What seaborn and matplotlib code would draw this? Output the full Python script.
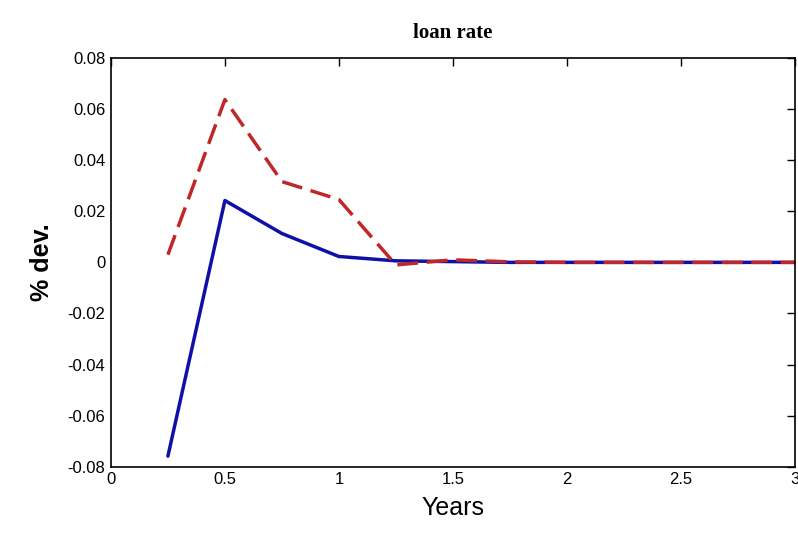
import seaborn as sns
import pandas as pd
from matplotlib import pyplot as plt

# impulse responses, quarterly horizon in years
years = [0.25, 0.5, 0.75, 1.0, 1.25, 1.5, 1.75, 2.0, 2.25, 2.5, 2.75, 3.0]
blue_line = [-0.0758, 0.0242, 0.0113, 0.0023, 0.0006, 0.0003, 0.0, 0.0, 0.0, 0.0, 0.0, 0.0]
red_line = [0.0030, 0.0637, 0.0316, 0.0246, -0.0010, 0.0010, 0.0002, 0.0, 0.0, 0.0, 0.0, 0.0]

x_ticks = [0, 0.5, 1, 1.5, 2, 2.5, 3]
x_ticklabels = ['0', '0.5', '1', '1.5', '2', '2.5', '3']
y_ticks = [-0.08, -0.06, -0.04, -0.02, 0, 0.02, 0.04, 0.06, 0.08]
y_ticklabels = ['-0.08', '-0.06', '-0.04', '-0.02', '0', '0.02', '0.04', '0.06', '0.08']

df = pd.DataFrame({'Years': years, 'blue': blue_line, 'red': red_line})

sns.set_style('white')
plt.rcParams['font.family'] = ['Liberation Sans', 'DejaVu Sans']
plt.rcParams['text.color'] = 'black'
plt.rcParams['axes.labelcolor'] = 'black'

fig = plt.figure(figsize=(7.98, 5.36), dpi=100)
ax = fig.add_axes([0.139, 0.129, 0.857, 0.763])

sns.lineplot(data=df, x='Years', y='blue', ax=ax, color='#1010a8', linewidth=2.5)
sns.lineplot(data=df, x='Years', y='red', ax=ax, color='#c02828', linewidth=2.5,
             linestyle=(0, (6, 2.5)))

ax.set_xlim(0, 3)
ax.set_ylim(-0.08, 0.08)
ax.set_xticks(x_ticks)
ax.set_xticklabels(x_ticklabels)
ax.set_yticks(y_ticks)
ax.set_yticklabels(y_ticklabels)
ax.tick_params(direction='in', length=6, width=1, top=True, right=True,
               labelsize=12, colors='black', pad=4)

for spine in ax.spines.values():
    spine.set_color('black')
    spine.set_linewidth(1.2)

ax.set_xlabel('Years', fontsize=18, labelpad=6)
ax.set_ylabel('% dev.', fontsize=18, fontweight='bold', labelpad=10)
ax.set_title('loan rate', fontsize=15, fontweight='bold', family='Liberation Serif', pad=14)

fig.savefig('out.png', dpi=100)
